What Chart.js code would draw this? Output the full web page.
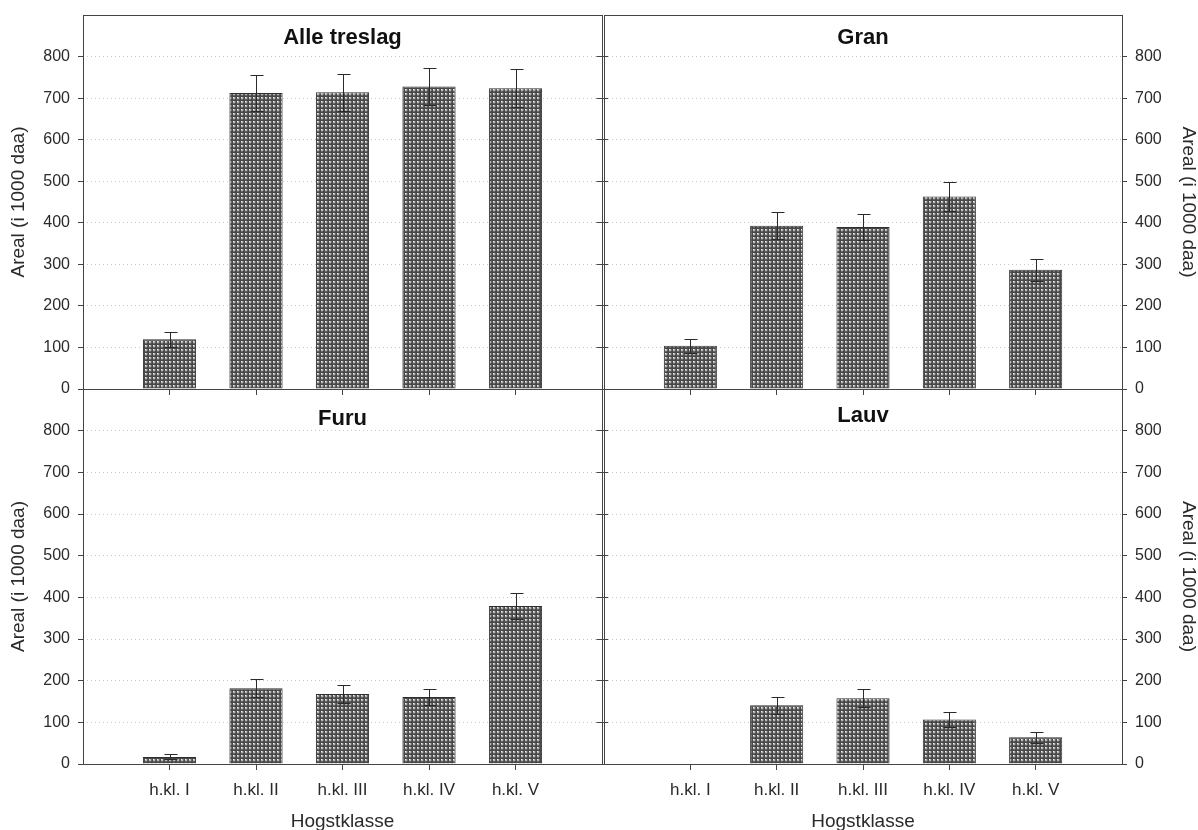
<!DOCTYPE html>
<html>
<head>
<meta charset="utf-8">
<script src="https://cdn.jsdelivr.net/npm/chart.js@4.4.1/dist/chart.umd.min.js"></script>
<style>
  html, body { margin: 0; padding: 0; background: #ffffff; }
  #wrap { position: relative; width: 1198px; height: 830px; overflow: hidden; background: #fff; }
  .pane { position: absolute; }
  canvas { display: block; }
</style>
</head>
<body>
<div id="wrap">
  <div class="pane" style="left:0px;top:0px;width:614px;height:400px;"><canvas id="c1" width="614" height="400"></canvas></div>
  <div class="pane" style="left:592px;top:0px;width:606px;height:400px;"><canvas id="c2" width="606" height="400"></canvas></div>
  <div class="pane" style="left:0px;top:382px;width:614px;height:448px;"><canvas id="c3" width="614" height="448"></canvas></div>
  <div class="pane" style="left:592px;top:382px;width:606px;height:448px;"><canvas id="c4" width="606" height="448"></canvas></div>
</div>
<script>
// ---- data ----
const categories = ['h.kl. I', 'h.kl. II', 'h.kl. III', 'h.kl. IV', 'h.kl. V'];
const panelTitles = ['Alle treslag', 'Gran', 'Furu', 'Lauv'];
const alleValues = [120, 712, 714, 728, 724];
const alleErrors = [18, 44, 45, 45, 45];
const granValues = [104, 393, 390, 463, 287];
const granErrors = [17, 32, 32, 34, 27];
const furuValues = [17, 182, 168, 161, 379];
const furuErrors = [6, 22, 22, 20, 31];
const lauvValues = [null, 141, 158, 107, 64];
const lauvErrors = [null, 20, 22, 18, 13];
const yTickValues = [0, 100, 200, 300, 400, 500, 600, 700, 800];
const yMax = 900;
const yTitle = 'Areal (i 1000 daa)';
const xTitle = 'Hogstklasse';

const FONT = '"Liberation Sans", Arial, Helvetica, sans-serif';
const AXIS = '#444444';
const INNER_PAD = 12;

// crosshatch pattern
function makePattern() {
  const c = document.createElement('canvas');
  c.width = 4; c.height = 4;
  const g = c.getContext('2d');
  g.fillStyle = '#484848'; g.fillRect(0, 0, 4, 4);
  g.fillStyle = '#b4b4b4'; g.fillRect(1, 1, 2, 2);
  g.fillStyle = '#f4f4f4'; g.fillRect(1, 1, 1, 1);
  g.fillStyle = '#6a6a6a'; g.fillRect(3, 1, 1, 2); g.fillRect(1, 3, 2, 1);
  return document.getElementById('c1').getContext('2d').createPattern(c, 'repeat');
}
const barPattern = makePattern();

const framePlugin = {
  id: 'frame',
  afterDraw(chart, args, opts) {
    const {ctx, chartArea: a} = chart;
    ctx.save();
    ctx.strokeStyle = AXIS;
    ctx.lineWidth = 1;
    const l = Math.floor(a.left) + 0.5, r = Math.floor(a.right) + 0.5;
    const t = Math.floor(a.top) + 0.5, b = Math.floor(a.bottom) + 0.5;
    ctx.strokeRect(l, t, r - l, b - t);
    // small ticks on the inner shared edge
    if (opts.innerTicks) {
      const ys = chart.scales.y;
      const ex = r;
      ctx.beginPath();
      yTickValues.forEach(v => {
        const py = Math.floor(ys.getPixelForValue(v)) + 0.5;
        ctx.moveTo(ex - 6, py); ctx.lineTo(ex + 6, py);
      });
      ctx.stroke();
    }
    // panel title
    ctx.fillStyle = '#111111';
    ctx.font = 'bold 22px ' + FONT;
    ctx.textAlign = 'center';
    ctx.textBaseline = 'middle';
    ctx.fillText(opts.title, (a.left + a.right) / 2, a.top + opts.titleOffset);
    ctx.restore();
  }
};

const errorPlugin = {
  id: 'errbars',
  afterDatasetsDraw(chart, args, opts) {
    const {ctx} = chart;
    const ys = chart.scales.y;
    const meta = chart.getDatasetMeta(0);
    const vals = chart.data.datasets[0].data;
    const errs = opts.errors;
    ctx.save();
    ctx.strokeStyle = '#2a2a2a';
    ctx.lineWidth = 1;
    meta.data.forEach((el, i) => {
      const v = vals[i], e = errs[i];
      if (v == null || e == null) return;
      const x = Math.round(el.x) + 0.5;
      const yt = Math.round(ys.getPixelForValue(v + e)) + 0.5;
      const yb = Math.round(ys.getPixelForValue(Math.max(0, v - e))) + 0.5;
      ctx.beginPath();
      ctx.moveTo(x, yt); ctx.lineTo(x, yb);
      ctx.moveTo(x - 6, yt); ctx.lineTo(x + 7, yt);
      ctx.moveTo(x - 6, yb); ctx.lineTo(x + 7, yb);
      ctx.stroke();
    });
    ctx.restore();
  }
};

function makeChart(id, opt) {
  const labels = [''].concat(categories).concat(['']);
  const data = [null].concat(opt.values).concat([null]);
  const errors = [null].concat(opt.errors).concat([null]);
  const isLeft = opt.side === 'left';
  const isBottom = opt.row === 'bottom';
  return new Chart(document.getElementById(id), {
    type: 'bar',
    data: {
      labels: labels,
      datasets: [{
        data: data,
        backgroundColor: barPattern,
        borderColor: '#2e2e2e',
        borderWidth: 1,
        categoryPercentage: 1,
        barPercentage: 0.615
      }]
    },
    options: {
      responsive: false,
      animation: false,
      devicePixelRatio: 1,
      layout: {
        padding: {
          left: isLeft ? 0 : INNER_PAD,
          right: isLeft ? INNER_PAD : 0,
          top: isBottom ? 7 : 15,
          bottom: 0
        }
      },
      plugins: {
        legend: { display: false },
        tooltip: { enabled: false },
        frame: { title: opt.title, titleOffset: opt.titleOffset, innerTicks: isLeft },
        errbars: { errors: errors }
      },
      scales: {
        x: {
          type: 'category',
          offset: false,
          grid: {
            display: true,
            offset: false,
            drawOnChartArea: false,
            drawTicks: true,
            tickLength: 6,
            tickColor: c => (c.index === 0 || c.index === labels.length - 1) ? 'rgba(0,0,0,0)' : AXIS
          },
          border: { display: false },
          ticks: {
            display: isBottom,
            autoSkip: false,
            maxRotation: 0,
            padding: 10,
            color: '#2a2a2a',
            font: { family: FONT, size: 17 }
          },
          title: {
            display: isBottom,
            text: xTitle,
            color: '#2a2a2a',
            font: { family: FONT, size: 19, lineHeight: 0.9 },
            padding: { top: 0, bottom: 0 }
          },
          afterFit: s => { s.height = isBottom ? 66 : 11; s.paddingLeft = 0; s.paddingRight = 0; }
        },
        y: {
          position: isLeft ? 'left' : 'right',
          min: 0,
          max: yMax,
          afterBuildTicks: s => { s.ticks = yTickValues.concat([yMax]).map(v => ({ value: v })); },
          grid: {
            display: true,
            color: '#c8c8c8',
            lineWidth: 1,
            drawTicks: true,
            tickLength: 5,
            tickColor: c => (c.tick && c.tick.value === yMax) ? 'rgba(0,0,0,0)' : AXIS,
            tickBorderDash: []
          },
          border: { display: false, dash: [1, 3] },
          ticks: {
            padding: 8,
            color: '#2a2a2a',
            font: { family: FONT, size: 16 },
            callback: v => (v === yMax ? '' : String(v))
          },
          title: {
            display: true,
            text: yTitle,
            color: '#2a2a2a',
            font: { family: FONT, size: 19, lineHeight: isLeft ? 1.2 : 1.0 },
            padding: { top: isLeft ? 7 : 0, bottom: 0 }
          },
          afterFit: s => { s.width = isLeft ? 83 : 76; s.paddingTop = 0; s.paddingBottom = 0; }
        }
      }
    },
    plugins: [framePlugin, errorPlugin]
  });
}

makeChart('c1', { side: 'left', row: 'top', title: panelTitles[0], titleOffset: 23, values: alleValues, errors: alleErrors });
makeChart('c2', { side: 'right', row: 'top', title: panelTitles[1], titleOffset: 23, values: granValues, errors: granErrors });
makeChart('c3', { side: 'left', row: 'bottom', title: panelTitles[2], titleOffset: 30, values: furuValues, errors: furuErrors });
makeChart('c4', { side: 'right', row: 'bottom', title: panelTitles[3], titleOffset: 27, values: lauvValues, errors: lauvErrors });
</script>
</body>
</html>
